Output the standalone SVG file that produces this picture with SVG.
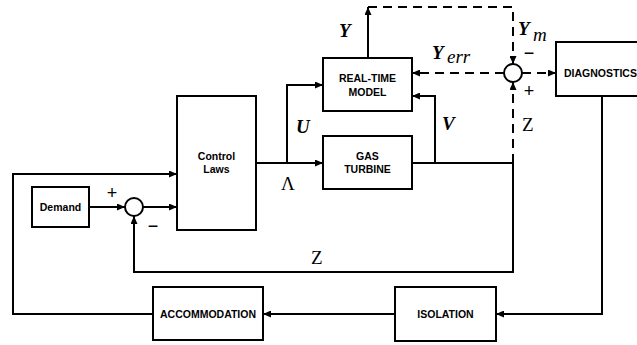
<svg xmlns="http://www.w3.org/2000/svg" width="637" height="345" viewBox="0 0 637 345">
<style>
.box{fill:#fff;stroke:#000;stroke-width:2}
.ln{fill:none;stroke:#000;stroke-width:2}
.dsh{fill:none;stroke:#000;stroke-width:2;stroke-dasharray:9,6}
.lbl{font-family:"Liberation Sans",Arial,sans-serif;font-weight:bold;font-size:10.5px;text-anchor:middle;fill:#000}
.m{font-family:"Liberation Serif","Times New Roman",serif;font-size:19px;fill:#000}
.mb{font-family:"Liberation Serif","Times New Roman",serif;font-size:19px;font-weight:bold;font-style:italic;fill:#000}
.sg{font-family:"Liberation Sans",Arial,sans-serif;font-size:18px;fill:#000;text-anchor:middle}
</style>
<defs>
<marker id="ah" markerWidth="8" markerHeight="7" refX="8" refY="3.5" orient="auto" markerUnits="userSpaceOnUse">
<path d="M0,0 L8,3.5 L0,7 Z" fill="#000"/>
</marker>
</defs>
<rect width="637" height="345" fill="#fff"/>
<g id="connectors">
<path class="ln" d="M89,207 H125" marker-end="url(#ah)"/>
<path class="ln" d="M143,207 H177" marker-end="url(#ah)"/>
<path class="ln" d="M256,163 H323" marker-end="url(#ah)"/>
<path class="ln" d="M287,163 V85 H323" marker-end="url(#ah)"/>
<path class="ln" d="M412,163 H513 V272 H134 V216" marker-end="url(#ah)"/>
<path class="ln" d="M435,163 V96 H412" marker-end="url(#ah)"/>
<path class="ln" d="M368,58 V7" marker-end="url(#ah)"/>
<path class="dsh" d="M368,7 H513 V64" marker-end="url(#ah)"/>
<path class="dsh" d="M513,163 V82" marker-end="url(#ah)"/>
<path class="dsh" d="M504,73 H412" marker-end="url(#ah)"/>
<path class="dsh" d="M522,73 H556" marker-end="url(#ah)"/>
<path class="ln" d="M602,96 V314 H496" marker-end="url(#ah)"/>
<path class="ln" d="M395,314 H263" marker-end="url(#ah)"/>
<path class="ln" d="M153,314 H13 V174 H177" marker-end="url(#ah)"/>
</g>
<g id="sum1"><circle cx="134" cy="207" r="9" class="box"/></g>
<g id="sum2"><circle cx="513" cy="73" r="9" class="box"/></g>
<g id="demand"><rect class="box" x="32" y="187" width="57" height="40"/><text class="lbl" x="60.5" y="211">Demand</text></g>
<g id="control"><rect class="box" x="177" y="96" width="79" height="134"/><text class="lbl" x="216.5" y="160">Control</text><text class="lbl" x="216.5" y="173">Laws</text></g>
<g id="rtm"><rect class="box" x="323" y="58" width="89" height="53"/><text class="lbl" x="367.5" y="82">REAL-TIME</text><text class="lbl" x="367.5" y="96">MODEL</text></g>
<g id="gt"><rect class="box" x="323" y="136" width="89" height="53"/><text class="lbl" x="367.5" y="160">GAS</text><text class="lbl" x="367.5" y="173">TURBINE</text></g>
<g id="diag"><rect class="box" x="556" y="42" width="90" height="54"/><text class="lbl" x="564" y="77" style="text-anchor:start">DIAGNOSTICS</text></g>
<g id="iso"><rect class="box" x="395" y="287" width="101" height="54"/><text class="lbl" x="445.5" y="318">ISOLATION</text></g>
<g id="acc"><rect class="box" x="153" y="287" width="110" height="53"/><text class="lbl" x="208" y="318">ACCOMMODATION</text></g>
<g id="labels">
<text class="mb" x="296" y="133">U</text>
<text class="m" x="281" y="190">Λ</text>
<text class="mb" x="442" y="130">V</text>
<text class="m" x="522" y="131">Z</text>
<text class="m" x="311" y="264">Z</text>
<text class="mb" x="339" y="37">Y</text>
<text class="mb" x="518" y="35">Y</text><text class="m" x="533" y="41" style="font-style:italic">m</text>
<text class="mb" x="432" y="59">Y</text><text class="m" x="447" y="63" style="font-style:italic">err</text>
<text class="sg" x="529" y="97">+</text>
<text class="sg" x="529" y="59">−</text>
<text class="sg" x="112" y="199">+</text>
<text class="sg" x="153" y="232">−</text>
</g>
</svg>
